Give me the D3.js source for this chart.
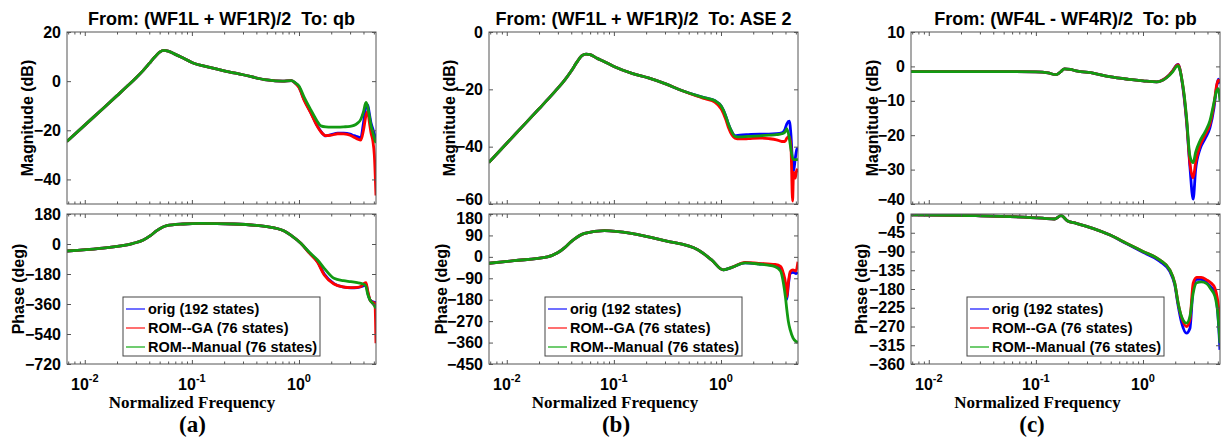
<!DOCTYPE html>
<html><head><meta charset="utf-8">
<script src="https://cdn.jsdelivr.net/npm/d3@7"></script>
<style>
body{margin:0;background:#fff}
text{font-family:"Liberation Sans",Arial,sans-serif;font-weight:bold;fill:#000}
.serif{font-family:"Liberation Serif","Times New Roman",serif}
</style>
</head><body><svg id="c" width="1221" height="442"></svg>
<script>
// ---------- DATA ----------
const seriesNames = ["orig (192 states)", "ROM--GA (76 states)", "ROM--Manual (76 states)"];

// (a) From: (WF1L + WF1R)/2  To: qb
const aMagF = [0.0068,0.01,0.015,0.02,0.025,0.03,0.035,0.04,0.045,0.05,0.055,0.06,0.07,0.08,0.1,0.15,0.2,0.3,0.5,0.7,0.85,0.93,1.0,1.11,1.29,1.49,1.6,1.78,2.0,2.3,2.62,3.0,3.26,3.5,3.78,4.0,4.22,4.38,4.55,4.7,4.9,5.05,5.23];
const aMagOrig = [-24.6,-17.9,-10.9,-5.9,-2.0,1.3,4.3,7.2,9.8,11.8,12.5,12.2,10.9,9.7,7.6,5.5,4.2,2.6,0.5,0,0.2,-0.9,-2.4,-7.2,-12.8,-18.3,-20.4,-22.3,-21.8,-21.2,-21.2,-21.6,-22.2,-22.6,-23.0,-17,-10.5,-9.7,-13.5,-17,-19.5,-21.5,-24];
const aMagGA   = [-24.6,-17.9,-10.9,-5.9,-2.0,1.3,4.3,7.2,9.8,11.8,12.5,12.2,10.9,9.7,7.6,5.5,4.2,2.6,0.5,0,0.2,-1.0,-2.6,-7.5,-13,-18.6,-20.6,-22.2,-22.0,-21.4,-21.5,-22.0,-22.8,-23.5,-24.0,-20,-14,-12.4,-17,-21,-24.5,-30,-46.5];
const aMagMan  = [-24.6,-17.9,-10.9,-5.9,-2.0,1.3,4.3,7.2,9.8,11.8,12.5,12.2,10.9,9.7,7.6,5.5,4.2,2.6,0.5,0,0.2,-0.8,-2,-6.3,-11.7,-16.5,-18.2,-18.6,-18.7,-18.7,-18.6,-18.4,-18.0,-17.2,-15.5,-12.5,-8.7,-10.5,-14.5,-18,-21,-23.2,-25.2];
const aPhF = [0.0068,0.0138,0.0284,0.0352,0.041,0.047,0.0583,0.083,0.12,0.245,0.505,0.72,0.85,1.04,1.25,1.49,1.72,2.12,2.6,3.05,3.5,3.79,4.05,4.22,4.38,4.6,4.8,5.0,5.12,5.23];
const aPhOrig = [-42,-26,4,24,50,80,110,120,124,120,104,80,50,4,-53,-106,-180,-238,-258,-263,-262,-256,-250,-240,-290,-335,-345,-348,-350,-352];
const aPhGA   = [-42,-26,4,24,50,80,110,120,124,120,104,80,50,4,-55,-110,-186,-240,-258,-262,-260,-255,-236,-232,-280,-335,-348,-352,-360,-596];
const aPhMan  = [-42,-26,4,24,50,80,110,120,124,120,104,80,50,4,-50,-96,-146,-206,-220,-226,-232,-236,-242,-255,-300,-335,-352,-366,-376,-386];

// (b) From: (WF1L + WF1R)/2  To: ASE 2
const bMagF = [0.0068,0.01,0.015,0.02,0.025,0.03,0.035,0.04,0.045,0.05,0.055,0.06,0.07,0.08,0.1,0.15,0.21,0.3,0.43,0.6,0.71,0.88,1.01,1.1,1.17,1.27,1.35,1.5,1.8,2.3,2.8,3.3,3.7,3.95,4.12,4.34,4.5,4.66,4.76,4.94,5.1,5.23];
const bMagOrig = [-45.5,-38.8,-31.8,-26.8,-22.9,-19.6,-16.6,-13.6,-10.6,-8.3,-7.7,-7.9,-9.2,-10.2,-12,-14.5,-16,-18,-20.4,-22.2,-23,-24,-26,-29,-32,-35,-36.2,-36,-35.8,-35.6,-35.6,-35.5,-35.2,-34,-32,-31.1,-36,-46,-48.6,-44,-41,-40.4];
const bMagGA   = [-45.5,-38.8,-31.8,-26.8,-22.9,-19.6,-16.6,-13.6,-10.6,-8.3,-7.7,-7.9,-9.2,-10.2,-12,-14.5,-16,-18,-20.4,-22.4,-23.3,-24.5,-27,-30.2,-33.2,-36,-37,-37.3,-37.2,-37,-37.2,-37.6,-38.2,-38.2,-37,-36.4,-40,-59,-49,-51,-48,-49];
const bMagMan  = [-45.5,-38.8,-31.8,-26.8,-22.9,-19.6,-16.6,-13.6,-10.6,-8.3,-7.7,-7.9,-9.2,-10.2,-12,-14.5,-16,-18,-20.4,-22.2,-23,-24,-26,-29,-32,-35,-36.4,-36.6,-36.4,-36.2,-36,-35.8,-35.5,-35,-33.7,-37,-41,-44,-44.5,-44.5,-44.5,-44.5];
const bPhF = [0.0068,0.0117,0.024,0.0298,0.035,0.0399,0.0532,0.0816,0.145,0.298,0.613,0.817,1.05,1.26,1.68,2.24,3.2,3.6,3.83,4.0,4.12,4.25,4.43,4.7,5.0,5.23];
const bPhOrig = [-27,-16,0,17,40,64,99,110,99,68,29,-13,-55,-44,-25,-29,-38,-50,-80,-125,-178,-120,-70,-65,-70,-65];
const bPhGA   = [-27,-16,0,17,40,64,99,110,99,68,29,-13,-55,-44,-23,-27,-32,-40,-70,-110,-168,-110,-62,-55,-60,-20];
const bPhMan  = [-27,-16,0,17,40,64,99,110,99,68,29,-13,-55,-44,-25,-30,-41,-60,-111,-170,-223,-270,-307,-340,-355,-360];

// (c) From: (WF4L - WF4R)/2  To: pb
const cMagF = [0.0068,0.05,0.1,0.13,0.154,0.17,0.185,0.21,0.238,0.35,0.487,0.75,1.0,1.34,1.66,1.9,2.06,2.13,2.2,2.29,2.42,2.55,2.74,2.94,3.1,3.4,3.8,4.22,4.6,4.87,5.05,5.23];
const cMagOrig = [-1.5,-1.5,-1.6,-1.9,-2.4,-1.6,-0.7,-0.9,-1.3,-2.0,-3.0,-3.8,-4.2,-4.5,-3.2,-1.2,0.4,0.6,-0.5,-3.4,-9,-16,-29,-38.6,-30,-24.1,-21,-17.8,-12,-6,-3.7,-5];
const cMagGA   = [-1.5,-1.5,-1.6,-1.9,-2.4,-1.6,-0.7,-0.9,-1.3,-2.0,-3.0,-3.8,-4.2,-4.5,-3.2,-1.2,0.3,0.5,-0.5,-3.2,-8.5,-15.5,-28,-32.4,-28,-23.1,-20,-16.8,-11,-5.5,-4,-4.5];
const cMagMan  = [-1.5,-1.5,-1.6,-1.9,-2.4,-1.6,-0.7,-0.9,-1.3,-2.0,-3.0,-3.8,-4.2,-4.5,-3.3,-1.5,0,0.2,-0.8,-3.2,-8,-14.8,-26,-28,-25,-21.7,-19,-15.8,-10.5,-7.1,-6.5,-10];
const cPhF = [0.0068,0.0275,0.1156,0.149,0.172,0.198,0.238,0.34,0.487,0.699,1.0,1.43,1.78,1.98,2.13,2.29,2.55,2.74,2.94,3.17,3.5,3.93,4.3,4.7,5.0,5.23];
const cPhOrig = [-2,-4,-10,-12,-4,-17,-22.5,-34.5,-50,-71,-92,-113,-138,-170,-220,-260,-286,-275,-180,-156,-157,-165,-175,-190,-240,-326];
const cPhGA   = [-2,-4,-10,-12,-4,-17,-22.5,-34.5,-50,-70,-90,-110,-134,-166,-214,-248,-270,-254,-166,-152,-152,-158,-165,-178,-210,-254];
const cPhMan  = [-2,-4,-10,-12,-4,-17,-22.5,-34.5,-50,-70,-90,-110,-134,-166,-214,-246,-262,-246,-190,-165,-163,-167,-180,-198,-240,-310];

// tick labels
const xMajorTicks = [0.01, 0.1, 1];
const xTickExponents = ["-2", "-1", "0"];
const aMagTicks = [20,0,-20,-40], aPhTicks = [180,0,-180,-360,-540,-720];
const bMagTicks = [0,-20,-40,-60], bPhTicks = [180,90,0,-90,-180,-270,-360,-450];
const cMagTicks = [10,0,-10,-20,-30,-40], cPhTicks = [0,-45,-90,-135,-180,-225,-270,-315,-360];

// ---------- LAYOUT / STYLE ----------
const lineColors = ["#0000ff", "#ff0000", "#129a12"];
const legendColors = ["#7070ff", "#ff7070", "#70cc70"];
const W = 309;
const magTop = 32, magBot = 204, phTop = 214, phBot = 364;
const xDomain = [Math.pow(10,-2.166), Math.pow(10,0.719)];

const panels = [
  {title:"From: (WF1L + WF1R)/2  To: qb", tag:"(a)", left:67,
   magF:aMagF, mag:[aMagOrig,aMagGA,aMagMan], magDom:[-50,20], magTicks:aMagTicks,
   phF:aPhF, ph:[aPhOrig,aPhGA,aPhMan], phDom:[-720,180], phTicks:aPhTicks,
   magLX:33, phLX:23.5, legX:123, xlabX:192, tagX:192.5},
  {title:"From: (WF1L + WF1R)/2  To: ASE 2", tag:"(b)", left:489,
   magF:bMagF, mag:[bMagOrig,bMagGA,bMagMan], magDom:[-60,0], magTicks:bMagTicks,
   phF:bPhF, ph:[bPhOrig,bPhGA,bPhMan], phDom:[-450,180], phTicks:bPhTicks,
   magLX:455, phLX:446.5, legX:545, xlabX:615, tagX:616},
  {title:"From: (WF4L - WF4R)/2  To: pb", tag:"(c)", left:911,
   magF:cMagF, mag:[cMagOrig,cMagGA,cMagMan], magDom:[-40,10], magTicks:cMagTicks,
   phF:cPhF, ph:[cPhOrig,cPhGA,cPhMan], phDom:[-360,0], phTicks:cPhTicks,
   magLX:878, phLX:867, legX:967, xlabX:1037.5, tagX:1032}
];

const svg = d3.select("#c");
const axisColor = "#555";

const minorTicks = [];
for (let e = -3; e <= 0; e++) for (let m = 2; m <= 9; m++) {
  const v = m * Math.pow(10, e);
  if (v > xDomain[0] && v < xDomain[1]) minorTicks.push(v);
}

let clipN = 0;
function drawPlot(x, y, freqs, series, ticks, top, bot, labelShift) {
  const g = svg.append("g");
  const id = "clip" + (clipN++);
  svg.append("clipPath").attr("id", id).append("rect")
    .attr("x", x.range()[0]).attr("y", top).attr("width", x.range()[1]-x.range()[0]).attr("height", bot-top);
  g.append("rect").attr("x", x.range()[0]).attr("y", top).attr("width", x.range()[1]-x.range()[0]).attr("height", bot-top).attr("fill", "#fff");
  const line = d3.line().x(d => x(d[0])).y(d => y(d[1])).curve(d3.curveMonotoneX);
  const lg = g.append("g").attr("clip-path", `url(#${id})`);
  series.forEach((vals, i) => {
    lg.append("path").datum(freqs.map((f, k) => [f, vals[k]]))
      .attr("d", line).attr("fill", "none").attr("stroke", lineColors[i])
      .attr("stroke-width", 2.8).attr("stroke-linejoin", "round");
  });
  const L = x.range()[0], R = x.range()[1];
  const yl = g.append("g").attr("transform", `translate(${L},0)`)
    .call(d3.axisLeft(y).tickValues(ticks).tickSize(-4).tickPadding(6).tickFormat(d3.format("d")));
  // nudge the extreme labels that would touch the neighbouring subplot's labels
  yl.selectAll(".tick text").attr("dy", (d, i) => {
    if (labelShift === "up" && i === ticks.length - 1) return "0.06em";
    if (labelShift === "down" && i === 0) return "0.58em";
    return "0.32em";
  });
  const yr = g.append("g").attr("transform", `translate(${R},0)`)
    .call(d3.axisRight(y).tickValues(ticks).tickSize(-4).tickFormat(""));
  const xb = g.append("g").attr("transform", `translate(0,${bot})`)
    .call(d3.axisBottom(x).tickValues(xMajorTicks).tickSize(-4).tickFormat(""));
  const xt = g.append("g").attr("transform", `translate(0,${top})`)
    .call(d3.axisTop(x).tickValues(xMajorTicks).tickSize(-4).tickFormat(""));
  const xbm = g.append("g").attr("transform", `translate(0,${bot})`)
    .call(d3.axisBottom(x).tickValues(minorTicks).tickSize(-2.5).tickFormat(""));
  const xtm = g.append("g").attr("transform", `translate(0,${top})`)
    .call(d3.axisTop(x).tickValues(minorTicks).tickSize(-2.5).tickFormat(""));
  [yl, yr, xb, xt, xbm, xtm].forEach(a => {
    a.select(".domain").remove();
    a.selectAll("line").attr("stroke", axisColor);
    a.selectAll("text").attr("fill", "#000").style("font-family", '"Liberation Sans",Arial,sans-serif')
      .style("font-weight", "bold").style("font-size", "16px");
  });
  g.append("rect").attr("x", L).attr("y", top).attr("width", R-L).attr("height", bot-top)
    .attr("fill", "none").attr("stroke", axisColor).attr("stroke-width", 1);
  return g;
}

panels.forEach(p => {
  const x = d3.scaleLog().domain(xDomain).range([p.left, p.left + W]);
  const yMag = d3.scaleLinear().domain(p.magDom).range([magBot, magTop]);
  const yPh = d3.scaleLinear().domain(p.phDom).range([phBot, phTop]);
  const magShift = (p.magDom[0] === p.magTicks[p.magTicks.length-1]) ? "up" : null;
  const phShift = magShift ? "down" : null;
  drawPlot(x, yMag, p.magF, p.mag, p.magTicks, magTop, magBot, magShift);
  drawPlot(x, yPh, p.phF, p.ph, p.phTicks, phTop, phBot, phShift);

  svg.append("text").attr("x", p.left + W/2).attr("y", 25).attr("text-anchor", "middle")
    .style("font-size", "18px").style("white-space", "pre").text(p.title);
  svg.append("text").attr("transform", `translate(${p.magLX},${(magTop+magBot)/2}) rotate(-90)`)
    .attr("text-anchor", "middle").style("font-size", "16px").text("Magnitude (dB)");
  svg.append("text").attr("transform", `translate(${p.phLX},${(phTop+phBot)/2}) rotate(-90)`)
    .attr("text-anchor", "middle").style("font-size", "16px").text("Phase (deg)");
  xMajorTicks.forEach((t, i) => {
    const tx = svg.append("text").attr("x", x(t)).attr("y", 390).attr("text-anchor", "middle").style("font-size", "16px");
    tx.append("tspan").text("10");
    tx.append("tspan").attr("dy", -8).style("font-size", "11px").text(xTickExponents[i]);
  });
  svg.append("text").attr("class", "serif").attr("x", p.xlabX).attr("y", 408).attr("text-anchor", "middle")
    .style("font-size", "17px").text("Normalized Frequency");
  svg.append("text").attr("class", "serif").attr("x", p.tagX).attr("y", 432).attr("text-anchor", "middle")
    .style("font-size", "23px").text(p.tag);
  const lg = svg.append("g");
  lg.append("rect").attr("x", p.legX).attr("y", 297).attr("width", 197).attr("height", 59)
    .attr("fill", "#fff").attr("stroke", "#444").attr("stroke-width", 1);
  seriesNames.forEach((s, i) => {
    const yy = 309 + i * 19;
    lg.append("line").attr("x1", p.legX + 3).attr("x2", p.legX + 22).attr("y1", yy).attr("y2", yy)
      .attr("stroke", legendColors[i]).attr("stroke-width", 2);
    lg.append("text").attr("x", p.legX + 25).attr("y", yy).attr("dy", "0.36em")
      .style("font-size", "14.5px").text(s);
  });
});
</script>
</body></html>
